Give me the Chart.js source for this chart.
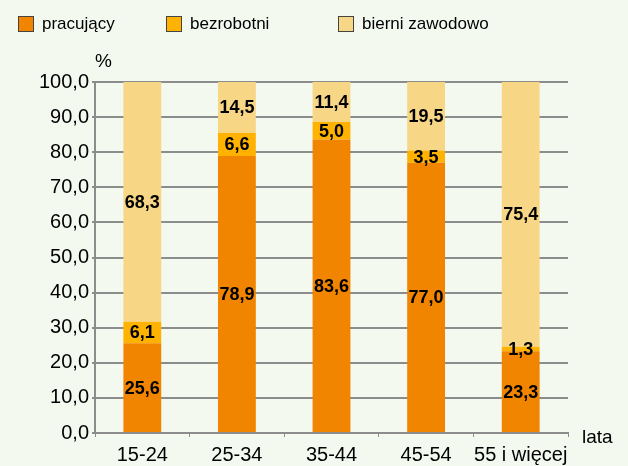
<!DOCTYPE html>
<html>
<head>
<meta charset="utf-8">
<script src="https://cdn.jsdelivr.net/npm/chart.js@4/dist/chart.umd.min.js"></script>
<style>
  html, body { margin: 0; padding: 0; background: #f4f9f0; }
  #wrap { position: relative; width: 628px; height: 466px; font-family: "Liberation Sans", Arial, sans-serif; }
  canvas { position: absolute; left: 0; top: 0; }
  .leg { position: absolute; top: 14px; font-size: 17px; color: #000; display: flex; align-items: center; }
  .leg span.box { display: inline-block; width: 14px; height: 14px; border: 1px solid #444; margin-right: 8px; }
  .note { position: absolute; font-size: 19px; color: #000; }
</style>
</head>
<body>
<div id="wrap">
  <canvas id="wykres" width="628" height="466"></canvas>
  <div class="leg" style="left:18px"><span class="box" style="background:#f28500"></span>pracujący</div>
  <div class="leg" style="left:166px"><span class="box" style="background:#ffb300"></span>bezrobotni</div>
  <div class="leg" style="left:338px"><span class="box" style="background:#f7d686"></span>bierni zawodowo</div>
  <div class="note" style="left:95px; top:50px">%</div>
  <div class="note" style="left:582px; top:426px">lata</div>
</div>
<script>
// dane
const kategorie = ['15-24', '25-34', '35-44', '45-54', '55 i więcej'];
const pracujacy = [25.6, 78.9, 83.6, 77.0, 23.3];
const bezrobotni = [6.1, 6.6, 5.0, 3.5, 1.3];
const bierni = [68.3, 14.5, 11.4, 19.5, 75.4];

// etykiety wartości na słupkach
const etykiety = {
    id: 'etykiety',
    afterDatasetsDraw(chart) {
        const ctx = chart.ctx;
        ctx.save();
        ctx.font = 'bold 18px "Liberation Sans", Arial, sans-serif';
        ctx.fillStyle = '#000';
        ctx.textAlign = 'center';
        ctx.textBaseline = 'middle';
        chart.data.datasets.forEach((ds, i) => {
            chart.getDatasetMeta(i).data.forEach((bar, j) => {
                const y = (bar.y + bar.base) / 2;
                ctx.fillText(ds.data[j].toFixed(1).replace('.', ','), bar.x, y + 1);
            });
        });
        ctx.restore();
    }
};

const ctx = document.getElementById('wykres').getContext('2d');
new Chart(ctx, {
    type: 'bar',
    data: {
        labels: kategorie,
        datasets: [
            { label: 'pracujący', data: pracujacy, backgroundColor: '#f28500' },
            { label: 'bezrobotni', data: bezrobotni, backgroundColor: '#ffb300' },
            { label: 'bierni zawodowo', data: bierni, backgroundColor: '#f7d686' }
        ]
    },
    options: {
        responsive: false,
        animation: false,
        layout: { padding: { top: 82, right: 60, left: 0, bottom: 0 } },
        datasets: { bar: { categoryPercentage: 1, barPercentage: 0.4 } },
        plugins: { legend: { display: false }, tooltip: { enabled: false } },
        scales: {
            x: {
                stacked: true,
                afterFit: (s) => { s.height = 33; },
                grid: { offset: true, drawOnChartArea: false, tickLength: 4, color: '#8c8c8c', lineWidth: 1 },
                border: { color: '#8c8c8c', width: 2 },
                ticks: {
                    color: '#000',
                    maxRotation: 0,
                    minRotation: 0,
                    autoSkip: false,
                    padding: 6,
                    font: { size: 20, family: '"Liberation Sans", Arial, sans-serif' }
                }
            },
            y: {
                stacked: true,
                min: 0,
                max: 100,
                afterFit: (s) => { s.width = 95; },
                grid: { color: '#8c8c8c', lineWidth: 2, tickLength: 3 },
                border: { color: '#8c8c8c', width: 2 },
                ticks: {
                    stepSize: 10,
                    color: '#000',
                    padding: 3,
                    font: { size: 20, family: '"Liberation Sans", Arial, sans-serif' },
                    callback: (v) => v.toFixed(1).replace('.', ',')
                }
            }
        }
    },
    plugins: [etykiety]
});
</script>
</body>
</html>
